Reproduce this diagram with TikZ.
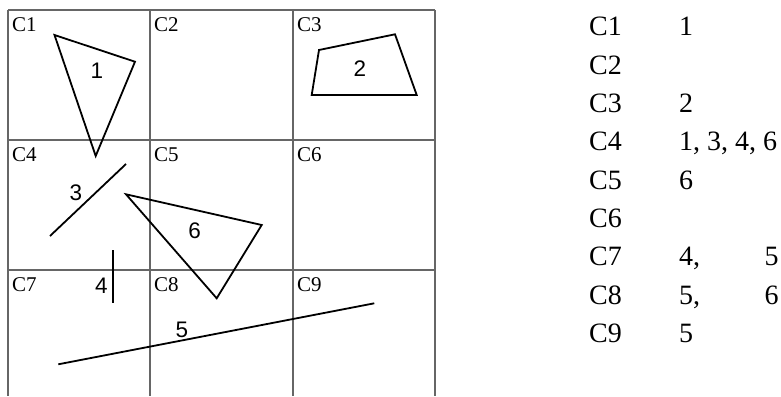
\documentclass[tikz,border=0pt]{standalone}
\usepackage{fontspec}
\setmainfont{Liberation Serif}
\newfontfamily\lsans{Liberation Sans}
\begin{document}
\begin{tikzpicture}[x=1pt,y=-1pt,
  gridline/.style={draw=black!60, line width=1.1pt},
  figline/.style={draw=black, line width=1.8pt, line join=miter},
  celllabel/.style={anchor=base west, inner sep=0pt, font=\fontsize{21}{21}\selectfont},
  figlabel/.style={inner sep=0pt, font=\lsans\fontsize{22.5}{22.5}\selectfont},
  tabtext/.style={anchor=base west, inner sep=0pt, font=\fontsize{28}{28}\selectfont}]
\useasboundingbox (0,0) rectangle (781,396);
% grid
\coordinate (g00) at (8,10);   \coordinate (g30) at (435,10);
\coordinate (g01) at (8,140);  \coordinate (g31) at (435,140);
\coordinate (g02) at (8,270);  \coordinate (g32) at (435,270);
\coordinate (v0b) at (8,396);  \coordinate (v1t) at (150,10); \coordinate (v1b) at (150,396);
\coordinate (v2t) at (293,10); \coordinate (v2b) at (293,396); \coordinate (v3b) at (435,396);
\draw[gridline] (g00) -- (g30);
\draw[gridline] (g01) -- (g31);
\draw[gridline] (g02) -- (g32);
\draw[gridline] (g00) -- (v0b);
\draw[gridline] (v1t) -- (v1b);
\draw[gridline] (v2t) -- (v2b);
\draw[gridline] (g30) -- (v3b);
% cell labels
\node[celllabel] (c1) at (12,31.5) {C1};
\node[celllabel] (c2) at (154,31.5) {C2};
\node[celllabel] (c3) at (297,31.5) {C3};
\node[celllabel] (c4) at (12,161.5) {C4};
\node[celllabel] (c5) at (154,161.5) {C5};
\node[celllabel] (c6) at (297,161.5) {C6};
\node[celllabel] (c7) at (12,291.5) {C7};
\node[celllabel] (c8) at (154,291.5) {C8};
\node[celllabel] (c9) at (297,291.5) {C9};
% figure 1
\coordinate (a1) at (54.5,35); \coordinate (a2) at (135,61.7); \coordinate (a3) at (95.7,156);
\draw[figline] (a1) -- (a2) -- (a3) -- cycle;
\node[figlabel] (f1) at (97,70.5) {1};
% figure 2
\coordinate (b1) at (319,50); \coordinate (b2) at (395,34.3); \coordinate (b3) at (416.7,95); \coordinate (b4) at (311.7,95);
\draw[figline] (b1) -- (b2) -- (b3) -- (b4) -- cycle;
\node[figlabel] (f2) at (360,68.3) {2};
% figure 3
\coordinate (l3a) at (126,164); \coordinate (l3b) at (50,236);
\draw[figline] (l3a) -- (l3b);
\node[figlabel] (f3) at (76,193) {3};
% figure 6
\coordinate (t1) at (126,194.3); \coordinate (t2) at (261.7,225); \coordinate (t3) at (216.7,298.3);
\draw[figline] (t1) -- (t2) -- (t3) -- cycle;
\node[figlabel] (f6) at (194.7,230.5) {6};
% figure 4
\coordinate (l4a) at (112.7,250); \coordinate (l4b) at (112.7,303);
\draw[figline] (l4a) -- (l4b);
\node[figlabel] (f4) at (101.3,286) {4};
% figure 5
\coordinate (l5a) at (58.3,364.3); \coordinate (l5b) at (374.3,303.3);
\draw[figline] (l5a) -- (l5b);
\node[figlabel] (f5) at (182,329.5) {5};
% table
\node[tabtext] (r1) at (589,36) {C1};
\node[tabtext] (r2) at (589,74.3) {C2};
\node[tabtext] (r3) at (589,112.6) {C3};
\node[tabtext] (r4) at (589,150.9) {C4};
\node[tabtext] (r5) at (589,189.2) {C5};
\node[tabtext] (r6) at (589,227.5) {C6};
\node[tabtext] (r7) at (589,265.8) {C7};
\node[tabtext] (r8) at (589,304.1) {C8};
\node[tabtext] (r9) at (589,342.4) {C9};
\node[tabtext] (s1) at (679,36) {1};
\node[tabtext] (s3) at (679,112.6) {2};
\node[tabtext] (s4) at (679,150.9) {1, 3, 4, 6};
\node[tabtext] (s5) at (679,189.2) {6};
\node[tabtext] (s7a) at (679,265.8) {4,};
\node[tabtext] (s7b) at (764.5,265.8) {5};
\node[tabtext] (s8a) at (679,304.1) {5,};
\node[tabtext] (s8b) at (764.5,304.1) {6};
\node[tabtext] (s9) at (679,342.4) {5};
\end{tikzpicture}
\end{document}
